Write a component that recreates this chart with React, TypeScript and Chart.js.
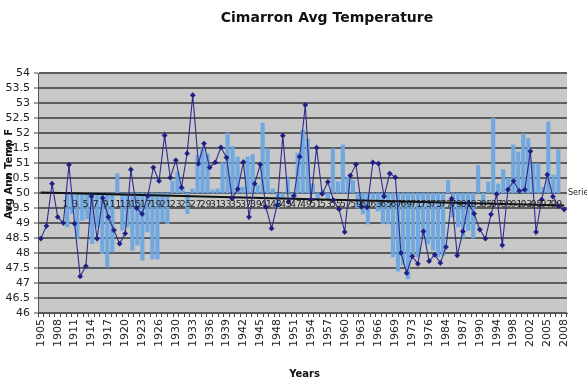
import React, { useEffect, useRef } from 'react';
import { Chart, registerables } from 'chart.js';

Chart.register(...registerables);

// ---- data ----
const years: string[] = [
  '1905','1906','1907','1908','1909','1910','1911','1912','1913','1914',
  '1915','1916','1917','1918','1919','1920','1921','1922','1923','1924',
  '1925','1926','1928','1929','1930','1931','1932','1933','1934','1935',
  '1936','1937','1938','1939','1940','1941','1942','1943','1944','1945',
  '1946','1947','1948','1949','1950','1951','1952','1953','1954','1955',
  '1956','1957','1958','1959','1960','1961','1962','1963','1964','1965',
  '1966','1967','1968','1969','1971','1972','1973','1974','1975','1976',
  '1978','1981','1984','1985','1986','1987','1988','1989','1990','1991',
  '1993','1994','1995','1996','1998','1999','2001','2002','2003','2004',
  '2005','2006','2007','2008'
];

const avgTemp: number[] = [
  48.48, 48.9, 50.31, 49.2, 49.0, 50.94, 48.98, 47.22, 47.56, 49.89,
  48.48, 49.83, 49.2, 48.76, 48.31, 48.65, 50.78, 49.5, 49.3, 49.9,
  50.85, 50.4, 51.92, 50.51, 51.09, 50.18, 51.32, 53.26, 50.98, 51.65,
  50.85, 51.02, 51.52, 51.18, 49.82, 50.13, 51.03, 49.2, 50.31, 50.95,
  49.53, 48.82, 49.6, 51.91, 49.7, 49.91, 51.21, 52.93, 49.78, 51.51,
  49.97, 50.37, 49.76, 49.46, 48.7, 50.58, 50.95, 49.54, 49.52, 51.02,
  50.98, 49.89, 50.65, 50.52, 48.0, 47.33, 47.89, 47.64, 48.72, 47.73,
  47.94, 47.67, 48.2, 49.81, 47.92, 48.72, 49.67, 49.31, 48.78, 48.48,
  49.29, 49.96, 48.26, 50.11, 50.4, 50.07, 50.11, 51.39, 48.7, 49.78,
  50.61, 49.88, 49.56, 49.45
];

// second (overlaid) series: 99 numbered bars drawn from the 50 F baseline
const barBase = 50;
const barIndex: number[] = Array.from({ length: 99 }, (_, k) => k + 1);
const barValues: number[] = [
  48.87, 49.31, 48.48, 49.09, 49.14, 48.31, 48.87, 47.98, 47.53, 48.03,
  50.64, 48.76, 48.87, 48.09, 48.26, 47.76, 48.7, 47.8, 47.8, 49.05,
  48.98, 50.4, 50.7, 50.2, 49.31, 50.14, 51.25, 51.5, 51.3, 50.1,
  50.14, 51.0, 52.0, 51.55, 51.2, 50.2, 51.2, 51.28, 50.26, 52.33,
  51.48, 50.14, 49.5, 49.8, 50.5, 49.8, 51.33, 52.1, 51.8, 50.3,
  49.8, 50.1, 49.8, 51.48, 50.38, 51.6, 50.53, 50.42, 49.5, 49.3,
  48.96, 49.8, 49.4, 48.97, 48.97, 47.87, 47.4, 47.6, 47.14, 47.9,
  47.87, 48.5, 48.3, 48.09, 47.87, 47.93, 50.42, 49.2, 48.87, 48.5,
  48.75, 48.5, 50.92, 49.6, 50.37, 52.5, 50.3, 50.78, 50.5, 51.6,
  51.37, 51.98, 51.82, 50.98, 50.98, 50.2, 52.37, 50.6, 51.44
];

// linear trend line end points
const trendStart = 50.02;
const trendEnd = 49.58;

const yTicksMin = 46;
const yTicksMax = 54;
const yStep = 0.5;

const FONT = 'DejaVu Sans';

const textPlugin = {
  id: 'textPlugin',
  beforeDraw(chart: any) {
    const { ctx, chartArea } = chart;
    ctx.save();
    ctx.fillStyle = '#c8c8c8';
    ctx.fillRect(chartArea.left, chartArea.top, chartArea.right - chartArea.left, chartArea.bottom - chartArea.top);
    ctx.restore();
  },
  afterDatasetsDraw(chart: any) {
    const { ctx, chartArea, scales } = chart;
    const x2 = scales.x2;
    const y = scales.y;
    ctx.save();
    ctx.fillStyle = '#1a1a1a';
    ctx.font = `9px ${FONT}`;
    ctx.textAlign = 'center';
    ctx.textBaseline = 'middle';
    const ly = y.getPixelForValue(barBase) + 12;
    barIndex.forEach((n) => {
      if (n % 2 === 1) ctx.fillText(String(n), x2.getPixelForValue(n), ly);
    });
    ctx.textAlign = 'left';
    ctx.font = `8px ${FONT}`;
    ctx.fillStyle = '#222';
    ctx.fillText('Serie', chartArea.right + 1, y.getPixelForValue(barBase));
    ctx.restore();
  },
  afterDraw(chart: any) {
    const { ctx, chartArea } = chart;
    ctx.save();
    ctx.fillStyle = '#111';
    ctx.textAlign = 'center';
    ctx.textBaseline = 'middle';
    ctx.font = `bold 14px ${FONT}`;
    ctx.fillText('Cimarron Avg Temperature', 327, 18);
    ctx.font = `bold 10px ${FONT}`;
    ctx.fillText('Years', (chartArea.left + chartArea.right) / 2 + 2, 374);
    ctx.translate(9, (chartArea.top + chartArea.bottom) / 2 - 19);
    ctx.rotate(-Math.PI / 2);
    ctx.font = `bold 10px ${FONT}`;
    ctx.fillText('Avg Ann Temp F', 0, 0);
    ctx.restore();
  }
};

export default function App() {
  const ref = useRef<HTMLCanvasElement | null>(null);
  useEffect(() => {
    if (!ref.current) return;
    const trend: (number | null)[] = avgTemp.map((_, i) =>
      i === 0 ? trendStart : i === avgTemp.length - 1 ? trendEnd : null
    );
    const chart = new Chart(ref.current, {
      type: 'bar',
      data: {
        labels: years,
        datasets: [
          {
            type: 'line',
            label: 'Avg Temp',
            data: avgTemp,
            xAxisID: 'x',
            yAxisID: 'y',
            borderColor: '#2d2d8e',
            borderWidth: 1.1,
            pointStyle: 'rectRot',
            pointRadius: 2.6,
            pointBorderWidth: 0.5,
            pointBackgroundColor: '#1e1e84',
            pointBorderColor: '#1e1e84',
            tension: 0,
            order: 0
          } as any,
          {
            type: 'line',
            label: 'Trend',
            data: trend,
            xAxisID: 'x',
            yAxisID: 'y',
            borderColor: '#111111',
            borderWidth: 2,
            pointRadius: 0,
            spanGaps: true,
            order: 1
          } as any,
          {
            type: 'bar',
            label: 'Series1',
            data: barValues.map((v, k) => ({ x: barIndex[k], y: [barBase, v] })),
            xAxisID: 'x2',
            yAxisID: 'y',
            backgroundColor: 'rgba(108,166,224,0.95)',
            barThickness: 3.5,
            clip: false,
            order: 2
          } as any
        ]
      },
      options: {
        responsive: false,
        animation: false,
        layout: { padding: { top: 73, right: 20, left: 0, bottom: 0 } },
        plugins: { legend: { display: false }, tooltip: { enabled: false }, title: { display: false } },
        scales: {
          x: {
            type: 'category',
            offset: true,
            grid: { drawOnChartArea: false, drawTicks: true, tickLength: 4, color: '#444' },
            border: { color: '#555', width: 1 },
            ticks: {
              autoSkip: false,
              minRotation: 90,
              maxRotation: 90,
              padding: 2,
              color: '#222',
              font: { family: FONT, size: 11 },
              callback: (_v: any, i: number) => (i % 3 === 0 ? years[i] : '')
            },
            afterFit: (s: any) => { s.height = 70; }
          },
          x2: {
            type: 'linear',
            display: false,
            min: 0.8,
            max: 95.8
          },
          y: {
            min: yTicksMin,
            max: yTicksMax,
            ticks: {
              stepSize: yStep,
              maxTicksLimit: 40,
              autoSkip: false,
              color: '#222',
              padding: 4,
              font: { family: FONT, size: 11 },
              callback: (v: any) => String(v)
            },
            grid: { color: '#5c5c5c', lineWidth: 2, tickLength: 4, tickColor: '#444', tickWidth: 1 },
            border: { color: '#555', width: 1 },
            afterFit: (s: any) => { s.width = 38; }
          }
        }
      } as any,
      plugins: [textPlugin]
    });
    return () => chart.destroy();
  }, []);
  return (
    <div style={{ position: 'absolute', left: 0, top: 0, width: 587, height: 383, background: '#fff' }}>
      <canvas ref={ref} width={587} height={383} style={{ display: 'block' }} />
    </div>
  );
}
